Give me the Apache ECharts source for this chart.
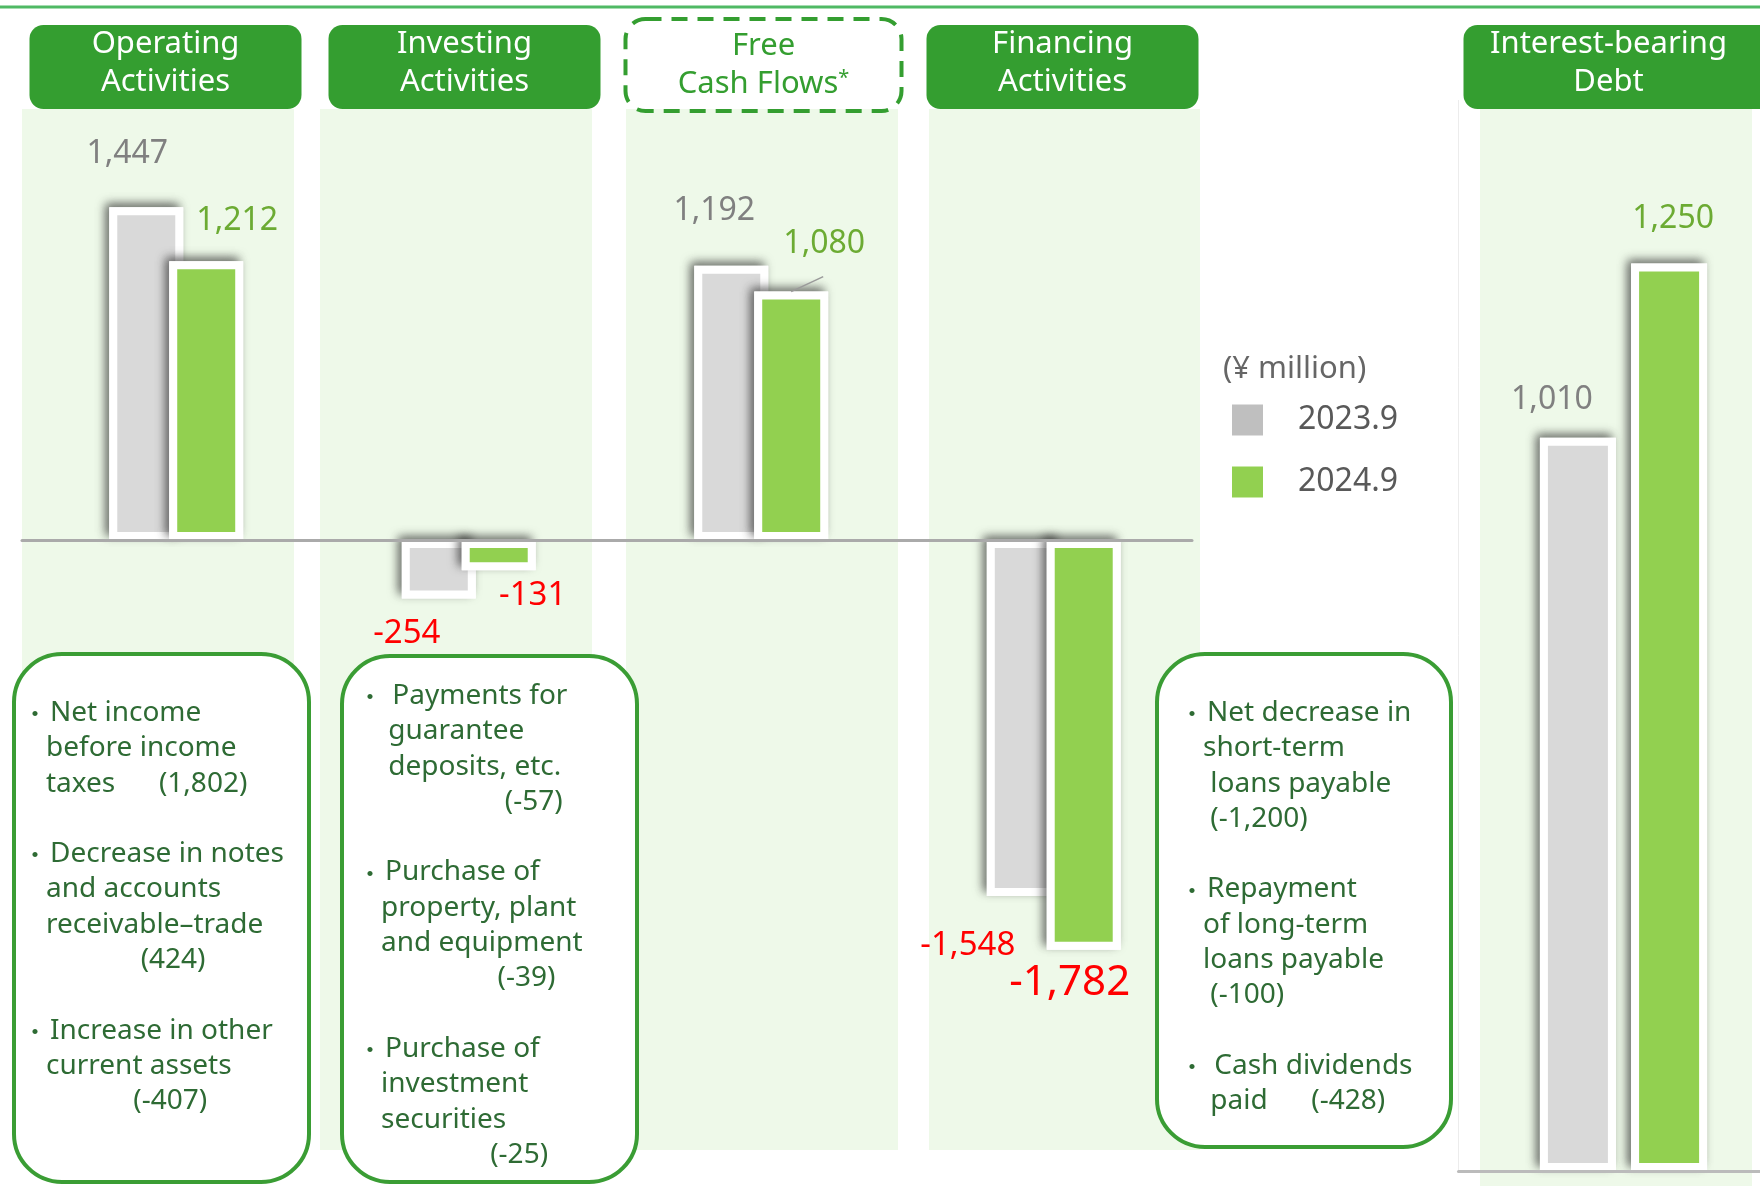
<!DOCTYPE html>
<html>
<head>
<meta charset="utf-8">
<script src="https://cdn.jsdelivr.net/npm/echarts@6/dist/echarts.min.js"></script>
<style>
  html, body { margin: 0; padding: 0; background: #ffffff; }
  #chart { width: 1760px; height: 1186px; }
</style>
</head>
<body>
<div id="chart"></div>
<script>
// ---- Data (¥ million) ----
const periods = ['2023.9', '2024.9'];
const flowCategories = ['Operating\nActivities', 'Investing\nActivities', 'Free\nCash Flows*', 'Financing\nActivities'];
const flows2023 = [1447, -254, 1192, -1548];
const flows2024 = [1212, -131, 1080, -1782];
const debtCategory = ['Interest-bearing\nDebt'];
const debt2023 = [1010];
const debt2024 = [1250];
const unitLabel = '(¥ million)';

const operatingNotes = [
  '・Net income', 'before income', 'taxes      (1,802)', '',
  '・Decrease in notes', 'and accounts', 'receivable–trade', '             (424)', '',
  '・Increase in other', 'current assets', '            (-407)'
];
const investingNotes = [
  '・ Payments for', ' guarantee', ' deposits, etc.', '                 (-57)', '',
  '・Purchase of', 'property, plant', 'and equipment', '                (-39)', '',
  '・Purchase of', 'investment', 'securities', '               (-25)'
];
const financingNotes = [
  '・Net decrease in', 'short-term', ' loans payable', ' (-1,200)', '',
  '・Repayment', 'of long-term', 'loans payable', ' (-100)', '',
  '・ Cash dividends', ' paid      (-428)'
];

// ---- Styling / layout ----
const GRAY = '#d9d9d9', GREEN = '#92d050', HEAD = '#349e30';
const LABEL_GRAY = '#808080', LABEL_GREEN = '#6cab33', RED = '#ff0000';
const FONT = '"Noto Sans", "DejaVu Sans", sans-serif';

// label placement: [dx from bar centre, dy from bar end to text centre]
const flowShift2023 = [[-19, -53], [-32, 35], [-17, -55], [-56, 50]];
const flowShift2024 = [[31, -40], [34, 25], [33, -48], [-14, 33]];
const flowSize2024 = [32, 33, 32, 42];
const debtShift2023 = [[-26, -38]];
const debtShift2024 = [[4, -45]];
const LEADER_ITEM = 2;   // Free Cash Flows 2024.9 label gets a short guide line

// coloured bar with a white rim
function barItemStyle(color) {
  return { color: color, borderColor: '#ffffff', borderWidth: 8 };
}
// white plate under each bar that casts the drop shadow
const plateStyle = {
  color: '#ffffff', borderColor: '#ffffff', borderWidth: 8,
  shadowBlur: 10, shadowColor: 'rgba(40,40,40,0.55)',
  shadowOffsetX: -4, shadowOffsetY: -4
};

function labelledData(values, shifts, color, sizes) {
  return values.map(function (v, i) {
    return {
      value: v,
      label: {
        position: v >= 0 ? 'top' : 'bottom',
        offset: shifts[i],
        color: v < 0 ? RED : color,
        fontSize: sizes ? sizes[i] : (v < 0 ? 33 : 32)
      }
    };
  });
}

const valueLabel = {
  show: true, distance: 0, verticalAlign: 'middle', align: 'center',
  fontFamily: FONT, fontSize: 32,
  formatter: function (p) { return p.value.toLocaleString('en-US'); }
};

const headerLabel = {
  show: true, interval: 0, margin: 11,
  color: '#ffffff', fontFamily: FONT, fontSize: 31, lineHeight: 38,
  backgroundColor: HEAD, borderRadius: 14, width: 272, height: 84,
  align: 'center',
  formatter: function (v) { return v.replace('*', '{sup|*}'); },
  rich: { sup: { fontSize: 20, lineHeight: 38, color: HEAD, fontFamily: FONT, padding: [0, 0, 12, 0] } }
};

const headerData = flowCategories.map(function (c) {
  if (c.indexOf('*') < 0) return c;
  return {
    value: c,
    textStyle: {
      backgroundColor: '#ffffff', color: HEAD, borderColor: HEAD,
      borderWidth: 4, borderType: [16, 10], borderRadius: 18, height: 82, padding: [6, 0, 0, 0]
    }
  };
});

// ---- Decorations: top rule, column panels, note boxes ----
const graphics = [];
graphics.push({ type: 'rect', z: -5, shape: { x: 0, y: 5.5, width: 1760, height: 3 }, style: { fill: '#4fb964' } });
[[22, 109, 272, 1041], [320, 109, 272, 1041], [626, 109, 272, 1041], [929, 109, 271, 1041], [1480, 109, 272, 1077]]
  .forEach(function (p) {
    graphics.push({ type: 'rect', z: -10, shape: { x: p[0], y: p[1], width: p[2], height: p[3] }, style: { fill: '#eef9e9' } });
  });
graphics.push({ type: 'line', z: -9, shape: { x1: 1458.5, y1: 100, x2: 1458.5, y2: 1171 }, style: { stroke: '#ececec', lineWidth: 1 } });

const LINE = 35.3;
const noteLayout = [
  { lines: operatingNotes, x: 12, y: 652, w: 299, h: 532, bullet: 23, first: 61 },
  { lines: investingNotes, x: 340, y: 654, w: 299, h: 530, bullet: 30, first: 42 },
  { lines: financingNotes, x: 1155, y: 652, w: 298, h: 497, bullet: 37, first: 61 }
];
noteLayout.forEach(function (b) {
  const children = [{
    type: 'rect', shape: { x: 2, y: 2, width: b.w - 4, height: b.h - 4, r: 48 },
    style: { fill: '#ffffff', stroke: '#3a9d34', lineWidth: 4 }
  }];
  b.lines.forEach(function (ln, i) {
    if (!ln) return;
    const y = b.first + i * LINE;
    const txt = { fill: '#2e6b34', fontFamily: FONT, fontSize: 28, textVerticalAlign: 'middle', textAlign: 'left' };
    if (ln.charAt(0) === '・') {
      children.push({ type: 'text', style: { text: '・', x: b.bullet, y: y, fill: '#2e6b34', fontFamily: '"Noto Sans CJK JP", sans-serif', fontSize: 24, textAlign: 'center', textVerticalAlign: 'middle' } });
      children.push({ type: 'text', style: Object.assign({ text: ln.slice(1), x: b.bullet + 15, y: y }, txt) });
    } else {
      children.push({ type: 'text', style: Object.assign({ text: ln, x: b.bullet + 11, y: y }, txt) });
    }
  });
  graphics.push({ type: 'group', x: b.x, y: b.y, z: 10, children: children });
});

function plateSeries(name, xIdx, yIdx, values, width, gap) {
  return { type: 'bar', name: name + ' plate', xAxisIndex: xIdx, yAxisIndex: yIdx,
    barWidth: width, barGap: gap, silent: true, itemStyle: plateStyle, data: values };
}
function valueSeries(name, xIdx, yIdx, data, width, gap, color, labelColor) {
  return { type: 'bar', name: name, xAxisIndex: xIdx, yAxisIndex: yIdx,
    barWidth: width, barGap: gap, itemStyle: barItemStyle(color),
    label: Object.assign({}, valueLabel, { color: labelColor }), data: data };
}

const chart = echarts.init(document.getElementById('chart'), null, { renderer: 'canvas' });
chart.setOption({
  animation: false,
  backgroundColor: '#ffffff',
  title: {
    text: unitLabel, left: 1223, top: 354, padding: 0,
    textStyle: { fontFamily: FONT, fontSize: 31, fontWeight: 'normal', color: '#666666' }
  },
  legend: {
    orient: 'vertical', left: 1232, top: 404, padding: 0,
    itemWidth: 31, itemHeight: 31, itemGap: 30, icon: 'rect', selectedMode: false,
    itemStyle: { borderWidth: 0, shadowBlur: 0, shadowOffsetX: 0, shadowOffsetY: 0 },
    textStyle: { fontFamily: FONT, fontSize: 32, color: '#595959', padding: [7, 0, 0, 30] },
    data: [
      { name: periods[0], itemStyle: { color: '#bfbfbf' } },
      { name: periods[1], itemStyle: { color: GREEN } }
    ]
  },
  grid: [
    { left: 30, width: 1170, top: 172, height: 828, outerBoundsMode: 'none' },
    { left: 1458.5, width: 330, top: 154.6, height: 1016.4, outerBoundsMode: 'none' },
    { left: 16, width: 1196, top: 120, height: 10, outerBoundsMode: 'none' },
    { left: 22, width: 1170, top: 172, height: 828, outerBoundsMode: 'none' }
  ],
  xAxis: [
    { type: 'category', gridIndex: 0, data: flowCategories, show: false },
    { type: 'category', gridIndex: 2, position: 'top', data: headerData,
      axisLine: { show: false }, axisTick: { show: false }, splitLine: { show: false },
      axisLabel: headerLabel },
    { type: 'category', gridIndex: 1, data: debtCategory, z: 5,
      axisLine: { show: true, onZero: true, lineStyle: { color: '#bbbbbb', width: 3 } },
      axisTick: { show: false }, axisLabel: { show: false }, splitLine: { show: false } },
    { type: 'category', gridIndex: 1, position: 'top', data: debtCategory,
      axisLine: { show: false }, axisTick: { show: false }, splitLine: { show: false },
      axisLabel: Object.assign({}, headerLabel, { width: 290, padding: [0, 30, 0, 0], margin: 45.6, borderRadius: [14, 0, 0, 14] }) },
    { type: 'category', gridIndex: 0, data: flowCategories, show: false },
    { type: 'category', gridIndex: 1, data: debtCategory, show: false },
    // zero line of the cash-flow panels
    { type: 'category', gridIndex: 3, data: flowCategories, z: 5,
      axisLine: { show: true, onZero: true, lineStyle: { color: '#aaaaaa', width: 3 } },
      axisTick: { show: false }, axisLabel: { show: false }, splitLine: { show: false } }
  ],
  yAxis: [
    { type: 'value', gridIndex: 0, min: -2000, max: 1600, show: false },
    { type: 'value', gridIndex: 1, min: 0, max: 1400, show: false },
    { type: 'value', gridIndex: 2, show: false },
    { type: 'value', gridIndex: 3, min: -2000, max: 1600, show: false }
  ],
  series: [
    plateSeries(periods[0], 0, 0, flows2023, 74, '-19%'),
    valueSeries(periods[0], 4, 0, labelledData(flows2023, flowShift2023, LABEL_GRAY), 74, '-19%', GRAY, LABEL_GRAY),
    plateSeries(periods[1], 0, 0, flows2024, 74, '-19%'),
    valueSeries(periods[1], 4, 0, labelledData(flows2024, flowShift2024, LABEL_GREEN, flowSize2024), 74, '-19%', GREEN, LABEL_GREEN),
    plateSeries(periods[0], 2, 1, debt2023, 76, '20%'),
    valueSeries(periods[0], 5, 1, labelledData(debt2023, debtShift2023, LABEL_GRAY), 76, '20%', GRAY, LABEL_GRAY),
    plateSeries(periods[1], 2, 1, debt2024, 76, '20%'),
    valueSeries(periods[1], 5, 1, labelledData(debt2024, debtShift2024, LABEL_GREEN), 76, '20%', GREEN, LABEL_GREEN)
  ],
  graphic: { elements: graphics }
});

// short guide line from the Free Cash Flows 2024.9 bar to its label,
// anchored on the bar rectangle laid out by the chart
try {
  const rect = chart.getModel().getSeriesByIndex(3).getData().getItemLayout(LEADER_ITEM);
  if (rect) {
    const cx = rect.x + rect.width / 2;
    const top = Math.min(rect.y, rect.y + rect.height);
    graphics.push({ type: 'line', z: 6, shape: { x1: cx, y1: top, x2: cx + 32, y2: top - 15 },
      style: { stroke: '#9a9a9a', lineWidth: 1.5 } });
    chart.setOption({ graphic: { elements: graphics } });
  }
} catch (e) { /* guide line is decorative */ }
</script>
</body>
</html>
